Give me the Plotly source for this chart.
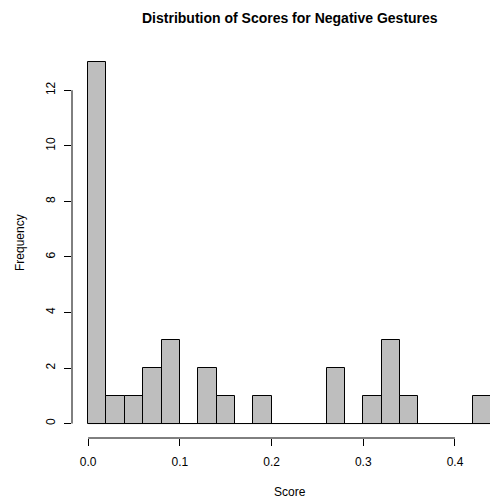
import plotly.graph_objects as go

# Histogram bins (width 0.02) and counts
bin_edges = [round(0.02 * i, 2) for i in range(23)]
counts = [13, 1, 1, 2, 3, 0, 2, 1, 0, 1, 0, 0, 0, 2, 0, 1, 3, 1, 0, 0, 0, 1]
x_ticks = [0.0, 0.1, 0.2, 0.3, 0.4]
x_tick_text = ["0.0", "0.1", "0.2", "0.3", "0.4"]
y_ticks = [0, 2, 4, 6, 8, 10, 12]

centers = [(bin_edges[i] + bin_edges[i + 1]) / 2 for i in range(len(counts))]
widths = [bin_edges[i + 1] - bin_edges[i] for i in range(len(counts))]

FONT = "Liberation Sans, Arial, Helvetica, sans-serif"

fig = go.Figure()

# baseline drawn under empty bins
fig.add_trace(go.Scatter(
    x=[bin_edges[0], bin_edges[-1]], y=[0, 0], mode="lines",
    line=dict(color="black", width=1), hoverinfo="skip", showlegend=False,
))

fig.add_trace(go.Bar(
    x=centers, y=counts, width=widths,
    marker=dict(color="#BEBEBE", line=dict(color="black", width=1)),
    showlegend=False,
))

fig.update_layout(
    width=490, height=498,
    margin=dict(l=72, r=0, t=48, b=60),
    plot_bgcolor="white", paper_bgcolor="white",
    font=dict(family=FONT, size=12, color="black"),
    bargap=0,
    xaxis=dict(
        range=[-0.0176, 0.4382], tickvals=x_ticks, ticktext=x_tick_text,
        ticks="outside", ticklen=7, tickcolor="black", tickwidth=1,
        showgrid=False, zeroline=False, showline=False,
        tickfont=dict(size=12, color="black"), ticklabelstandoff=6,
    ),
    yaxis=dict(
        range=[-0.52, 13.52], tickvals=y_ticks,
        ticks="outside", ticklen=7, tickcolor="black", tickwidth=1,
        showgrid=False, zeroline=False, showline=False, tickangle=-90,
        tickfont=dict(size=12, color="black"), ticklabelstandoff=4,
    ),
    shapes=[
        dict(type="line", xref="x", yref="paper", x0=x_ticks[0], x1=x_ticks[-1],
             y0=0, y1=0, line=dict(color="black", width=1)),
        dict(type="line", xref="paper", yref="y", x0=0, x1=0,
             y0=y_ticks[0], y1=y_ticks[-1], line=dict(color="black", width=1)),
    ],
    annotations=[
        dict(text="<b>Distribution of Scores for Negative Gestures</b>",
             xref="paper", yref="paper", x=(290 - 72) / 418, y=1 + 30 / 390,
             xanchor="center", yanchor="middle", showarrow=False,
             font=dict(size=14, color="black")),
        dict(text="Score", xref="paper", yref="paper", x=(290 - 72) / 418,
             y=-(491.7 - 438) / 390, xanchor="center", yanchor="middle",
             showarrow=False, font=dict(size=12, color="black")),
        dict(text="Frequency", xref="paper", yref="paper", x=-(72 - 20) / 418,
             y=0.5, xanchor="center", yanchor="middle", textangle=-90,
             showarrow=False, font=dict(size=12, color="black")),
    ],
)

fig.write_html("out.html")
